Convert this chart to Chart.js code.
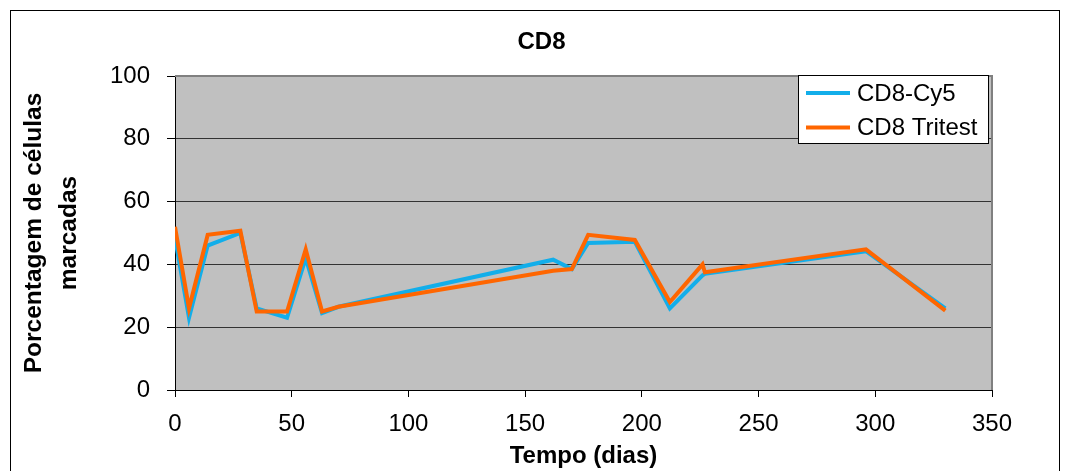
<!DOCTYPE html>
<html>
<head>
<meta charset="utf-8">
<script src="https://cdn.jsdelivr.net/npm/chart.js@4.4.1/dist/chart.umd.min.js"></script>
<style>
	body { margin: 0; background: #fff; }
	canvas { display: block; }
</style>
</head>
<body>
<canvas id="cd8Chart" width="1067" height="471"></canvas>
<script>
// dados
const dias = [0, 6, 14, 28, 35, 48, 56, 63, 70, 162, 170, 177, 197, 212, 226, 227, 296, 330];
const cd8Cy5 = [48.5, 23, 46, 50, 26, 23, 42, 24.5, 26.5, 41.5, 38.5, 46.8, 47.2, 26, 36.5, 37, 44.2, 26];
const cd8Tritest = [52, 26, 49.4, 50.7, 25, 25, 44.8, 25, 26.5, 38, 38.5, 49.4, 47.8, 28, 40, 37.5, 44.8, 25.3];
const yTicks = [0, 20, 40, 60, 80, 100];
const xTicks = [0, 50, 100, 150, 200, 250, 300, 350];

const fonte = '"Liberation Sans", Arial, sans-serif';
Chart.defaults.font.family = fonte;
Chart.defaults.color = '#000';

function pontos(valores) {
	return dias.map((d, i) => ({ x: d, y: valores[i] }));
}

// fundo cinza, moldura externa e borda do gráfico
const fundoPlugin = {
	id: 'fundo',
	beforeDraw(chart) {
		const { ctx, chartArea: a } = chart;
		ctx.save();
		ctx.strokeStyle = '#000';
		ctx.lineWidth = 1;
		ctx.strokeRect(10.5, 10.5, 1049, 480);
		ctx.fillStyle = '#c0c0c0';
		ctx.fillRect(a.left, a.top, a.right - a.left, a.bottom - a.top);
		ctx.restore();
	},
	beforeDatasetsDraw(chart) {
		const { ctx, chartArea: a } = chart;
		ctx.save();
		ctx.strokeStyle = '#808080';
		ctx.lineWidth = 2;
		ctx.beginPath();
		ctx.moveTo(a.left, a.top);
		ctx.lineTo(a.right, a.top);
		ctx.lineTo(a.right, a.bottom);
		ctx.stroke();
		ctx.restore();
	}
};

// legenda com caixa dentro da área do gráfico
const legendaPlugin = {
	id: 'legenda',
	afterDatasetsDraw(chart) {
		const { ctx, chartArea: a } = chart;
		const w = 190, h = 68;
		const x = a.right - 4 - w, y = a.top - 1;
		ctx.save();
		ctx.fillStyle = '#fff';
		ctx.fillRect(x, y, w, h);
		ctx.strokeStyle = '#000';
		ctx.lineWidth = 1;
		ctx.strokeRect(x + 0.5, y + 0.5, w, h);
		ctx.font = '24px ' + fonte;
		ctx.textBaseline = 'middle';
		chart.data.datasets.forEach((ds, i) => {
			const ly = y + 18 + i * 34.5;
			ctx.strokeStyle = ds.borderColor;
			ctx.lineWidth = 4;
			ctx.beginPath();
			ctx.moveTo(x + 8, ly);
			ctx.lineTo(x + 52, ly);
			ctx.stroke();
			ctx.fillStyle = '#000';
			ctx.fillText(ds.label, x + 59, ly + 1);
		});
		ctx.restore();
	}
};

new Chart(document.getElementById('cd8Chart'), {
	type: 'line',
	data: {
		datasets: [
			{
				label: 'CD8-Cy5',
				data: pontos(cd8Cy5),
				borderColor: '#12aeea',
				borderWidth: 4,
				pointRadius: 0,
				tension: 0,
				order: 1
			},
			{
				label: 'CD8 Tritest',
				data: pontos(cd8Tritest),
				borderColor: '#ff6600',
				borderWidth: 4,
				pointRadius: 0,
				tension: 0,
				order: 0
			}
		]
	},
	options: {
		responsive: false,
		animation: false,
		layout: { padding: { left: 16, right: 0, top: 0, bottom: 0 } },
		plugins: {
			legend: { display: false },
			tooltip: { enabled: false },
			title: {
				display: true,
				text: 'CD8',
				font: { size: 24, weight: 'bold' },
				padding: { top: 27.6, bottom: 19.6 }
			}
		},
		scales: {
			x: {
				type: 'linear',
				min: 0,
				max: 350,
				afterBuildTicks: s => { s.ticks = xTicks.map(v => ({ value: v })); },
				afterFit: s => { s.height = 81; },
				grid: { drawOnChartArea: false, drawTicks: true, tickLength: 7, tickColor: '#000' },
				border: { color: '#000', width: 1 },
				ticks: { font: { size: 24 }, padding: 13, maxRotation: 0 },
				title: {
					display: true,
					text: 'Tempo (dias)',
					font: { size: 24, weight: 'bold' },
					padding: { top: 0, bottom: 0 }
				}
			},
			y: {
				min: 0,
				max: 100,
				afterBuildTicks: s => { s.ticks = yTicks.map(v => ({ value: v })); },
				afterFit: s => { s.width = 159; },
				grid: {
					color: c => c.tick && c.tick.value === 100 ? '#808080' : '#333',
					tickColor: '#000',
					tickLength: 8,
					lineWidth: 1
				},
				border: { color: '#000', width: 1 },
				ticks: { font: { size: 24 }, padding: 17 },
				title: {
					display: true,
					text: ['Porcentagem de células', 'marcadas'],
					font: { size: 24.5, weight: 'bold', lineHeight: 1.45 },
					padding: 0
				}
			},
			direita: {
				position: 'right',
				min: 0,
				max: 100,
				afterFit: s => { s.width = 75; },
				grid: { display: false },
				border: { display: false },
				ticks: { display: false }
			}
		}
	},
	plugins: [fundoPlugin, legendaPlugin]
});
</script>
</body>
</html>
